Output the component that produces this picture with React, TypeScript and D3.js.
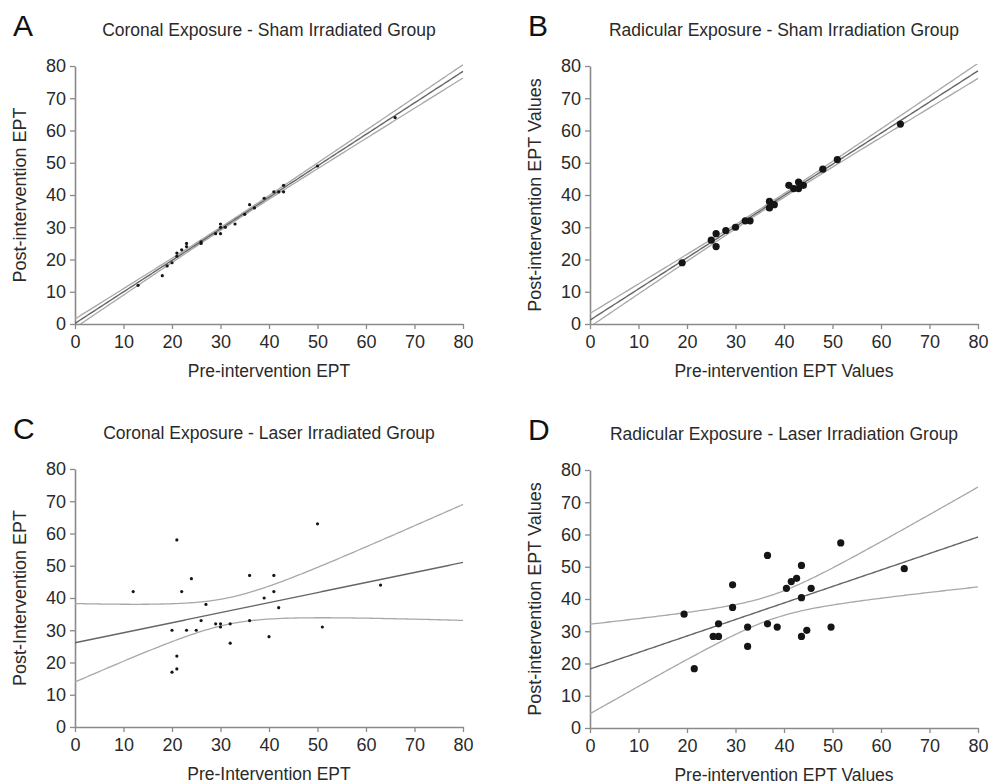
import React, { useEffect, useRef } from 'react';
import * as d3 from 'd3';

// Panel A - coronal exposure, sham irradiated
const coronalShamPre = [13, 18, 19, 20, 21, 21, 22, 23, 23, 26, 26, 29, 30, 30, 30, 31, 33, 35, 36, 37, 39, 41, 42, 43, 43, 50, 66];
const coronalShamPost = [12, 15, 18, 19, 21, 22, 23, 25, 24, 25.5, 25, 28, 28, 30, 31, 30, 31, 34, 37, 36, 39, 41, 41, 41, 43, 49, 64];

// Panel B - radicular exposure, sham irradiation
const radicularShamPre = [19, 25, 26, 26, 28, 30, 32, 33, 37, 37, 38, 41, 42, 43, 43, 44, 48, 51, 64];
const radicularShamPost = [19, 26, 28, 24, 29, 30, 32, 32, 38, 36, 37, 43, 42, 44, 42, 43, 48, 51, 62];

// Panel C - coronal exposure, laser irradiated
const coronalLaserPre = [12, 21, 24, 22, 27, 26, 20, 23, 25, 29, 30, 30, 32, 32, 21, 21, 20, 36, 36, 39, 40, 41, 41, 42, 50, 51, 63];
const coronalLaserPost = [42, 58, 46, 42, 38, 33, 30, 30, 30, 32, 32, 31, 32, 26, 22, 18, 17, 47, 33, 40, 28, 47, 42, 37, 63, 31, 44];

// Panel D - radicular exposure, laser irradiation
const radicularLaserPre = [19.4, 21.5, 25.4, 26.5, 26.5, 29.4, 29.4, 32.5, 32.5, 36.6, 36.6, 38.6, 40.5, 41.5, 42.6, 43.6, 43.6, 43.6, 44.7, 45.6, 49.7, 51.7, 64.8];
const radicularLaserPost = [35.3, 18.4, 28.4, 28.4, 32.3, 44.4, 37.4, 31.3, 25.3, 53.5, 32.3, 31.3, 43.3, 45.4, 46.4, 50.4, 40.4, 28.4, 30.3, 43.3, 31.3, 57.4, 49.4];

const axisTicks = [0, 10, 20, 30, 40, 50, 60, 70, 80];

const FONT = '"Liberation Sans", Arial, sans-serif';

// two-sided 95% t quantile (Cornish-Fisher expansion)
function tCrit(df) {
    const z = 1.959964;
    const g1 = (z ** 3 + z) / 4;
    const g2 = (5 * z ** 5 + 16 * z ** 3 + 3 * z) / 96;
    const g3 = (3 * z ** 7 + 19 * z ** 5 + 17 * z ** 3 - 15 * z) / 384;
    return z + g1 / df + g2 / df ** 2 + g3 / df ** 3;
}

function linearFit(xs, ys) {
    const n = xs.length;
    const mx = d3.mean(xs);
    const my = d3.mean(ys);
    let sxx = 0, sxy = 0;
    xs.forEach((x, i) => {
        sxx += (x - mx) ** 2;
        sxy += (x - mx) * (ys[i] - my);
    });
    const slope = sxy / sxx;
    const intercept = my - slope * mx;
    let sse = 0;
    xs.forEach((x, i) => { sse += (ys[i] - intercept - slope * x) ** 2; });
    const s = Math.sqrt(sse / (n - 2));
    const t = tCrit(n - 2);
    return {
        predict: x => intercept + slope * x,
        half: x => t * s * Math.sqrt(1 / n + (x - mx) ** 2 / sxx),
    };
}

function Panel({ id, left, top, letter, title, xLabel, yLabel, xs, ys, radius }) {
    const ref = useRef(null);
    const w = 388;
    const h = 258;

    useEffect(() => {
        const g = d3.select(ref.current);
        g.selectAll('*').remove();

        const x = d3.scaleLinear().domain([0, 80]).range([0, w]);
        const y = d3.scaleLinear().domain([0, 80]).range([h, 0]);

        g.append('clipPath').attr('id', 'clip-' + id)
            .append('rect').attr('x', 0).attr('y', -2).attr('width', w + 2).attr('height', h + 2);

        // axes
        const xAxis = g.append('g')
            .attr('transform', `translate(0, ${h})`)
            .call(d3.axisBottom(x).tickValues(axisTicks).tickSize(5).tickSizeOuter(0).tickPadding(6));
        const yAxis = g.append('g')
            .call(d3.axisLeft(y).tickValues(axisTicks).tickSize(5).tickSizeOuter(0).tickPadding(4));
        [xAxis, yAxis].forEach(a => {
            a.select('.domain').attr('stroke', '#8a8a8a').attr('stroke-width', 1.6);
            a.selectAll('.tick line').attr('stroke', '#8a8a8a').attr('stroke-width', 1.3);
            a.selectAll('.tick text')
                .style('font-size', '18px')
                .style('font-family', FONT)
                .attr('fill', '#2a2a2a');
        });

        // regression line with 95% confidence band
        const fit = linearFit(xs, ys);
        const grid = d3.range(0, 80.01, 0.5);
        const lineOf = fn => d3.line().x(d => x(d)).y(d => y(fn(d)))(grid);
        const lines = g.append('g').attr('clip-path', `url(#clip-${id})`).attr('fill', 'none');
        lines.append('path').attr('d', lineOf(d => fit.predict(d) + fit.half(d)))
            .attr('stroke', '#a8a8a8').attr('stroke-width', 1.3);
        lines.append('path').attr('d', lineOf(d => fit.predict(d) - fit.half(d)))
            .attr('stroke', '#a8a8a8').attr('stroke-width', 1.3);
        lines.append('path').attr('d', lineOf(d => fit.predict(d)))
            .attr('stroke', '#666').attr('stroke-width', 1.4);

        // points
        g.append('g').selectAll('circle')
            .data(xs)
            .enter()
            .append('circle')
            .attr('cx', d => x(d))
            .attr('cy', (d, i) => y(ys[i]))
            .attr('r', radius)
            .attr('fill', '#151515');

        // texts
        g.append('text')
            .attr('x', -62).attr('y', -30)
            .style('font-size', '30px').style('font-family', FONT).attr('fill', '#111')
            .text(letter);
        g.append('text')
            .attr('text-anchor', 'middle')
            .attr('x', w / 2).attr('y', -30)
            .style('font-size', '17.5px').style('font-family', FONT).attr('fill', '#2a2a2a')
            .text(title);
        g.append('text')
            .attr('text-anchor', 'middle')
            .attr('x', w / 2).attr('y', h + 53)
            .style('font-size', '17.5px').style('font-family', FONT).attr('fill', '#2a2a2a')
            .text(xLabel);
        g.append('text')
            .attr('text-anchor', 'middle')
            .attr('transform', `translate(-49, ${h / 2}) rotate(-90)`)
            .style('font-size', '18px').style('font-family', FONT).attr('fill', '#2a2a2a')
            .text(yLabel);
    }, []);

    return <g ref={ref} transform={`translate(${left}, ${top})`} />;
}

export default function App() {
    return (
        <svg width={1003} height={784} style={{ position: 'absolute', left: 0, top: 0, background: '#fff' }}>
            <rect width={1003} height={784} fill="#fff" />
            <Panel id="a" left={75} top={66} letter="A"
                title="Coronal Exposure - Sham Irradiated Group"
                xLabel="Pre-intervention EPT" yLabel="Post-intervention EPT"
                xs={coronalShamPre} ys={coronalShamPost} radius={1.6} />
            <Panel id="b" left={590} top={66} letter="B"
                title="Radicular Exposure - Sham Irradiation Group"
                xLabel="Pre-intervention EPT Values" yLabel="Post-intervention EPT Values"
                xs={radicularShamPre} ys={radicularShamPost} radius={3.6} />
            <Panel id="c" left={75} top={469} letter="C"
                title="Coronal Exposure - Laser Irradiated Group"
                xLabel="Pre-Intervention EPT" yLabel="Post-Intervention EPT"
                xs={coronalLaserPre} ys={coronalLaserPost} radius={1.6} />
            <Panel id="d" left={590} top={470} letter="D"
                title="Radicular Exposure - Laser Irradiation Group"
                xLabel="Pre-intervention EPT Values" yLabel="Post-intervention EPT Values"
                xs={radicularLaserPre} ys={radicularLaserPost} radius={3.6} />
        </svg>
    );
}
